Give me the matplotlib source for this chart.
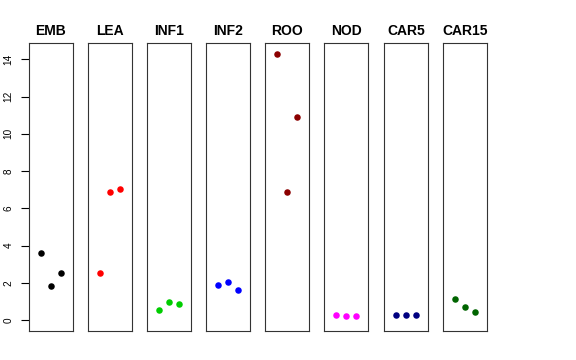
import matplotlib.pyplot as plt

plt.rcParams['font.family'] = ['Liberation Sans', 'DejaVu Sans']

# tissue groups, three replicate values each
groups = ['EMB', 'LEA', 'INF1', 'INF2', 'ROO', 'NOD', 'CAR5', 'CAR15']
emb = [3.58, 1.84, 2.54]
lea = [2.52, 6.87, 7.05]
inf1 = [0.55, 0.98, 0.86]
inf2 = [1.86, 2.04, 1.61]
roo = [14.30, 6.87, 10.90]
nod = [0.29, 0.23, 0.23]
car5 = [0.27, 0.27, 0.27]
car15 = [1.13, 0.72, 0.45]
values = [emb, lea, inf1, inf2, roo, nod, car5, car15]
colors = ['black', 'red', '#00CD00', 'blue', '#8B0000', 'magenta', '#000080', '#006400']
reps = [1, 2, 3]

fig = plt.figure(figsize=(5.76, 3.6), dpi=100)

# panel left edges in pixels
lefts = [29, 88, 147, 206, 265, 324, 384, 443]
for i in range(len(groups)):
    ax = fig.add_axes([lefts[i] / 576, 29 / 360, 44 / 576, 288 / 360])
    ax.scatter(reps, values[i], color=colors[i], s=22, zorder=3, linewidths=0)
    ax.set_xlim(-0.1, 4.1)
    ax.set_ylim(-0.59, 14.88)
    ax.set_xticks([])
    ax.set_title(groups[i], fontsize=10, fontweight='bold', pad=6)
    for sp in ax.spines.values():
        sp.set_linewidth(0.8)
        sp.set_color('#333333')
    if i == 0:
        ax.set_yticks([0, 2, 4, 6, 8, 10, 12, 14])
        ax.tick_params(axis='y', length=6, width=0.8, labelsize=7.2, pad=5)
        for lab in ax.get_yticklabels():
            lab.set_rotation(90)
            lab.set_va('center')
    else:
        ax.set_yticks([])

plt.savefig('out.png')
